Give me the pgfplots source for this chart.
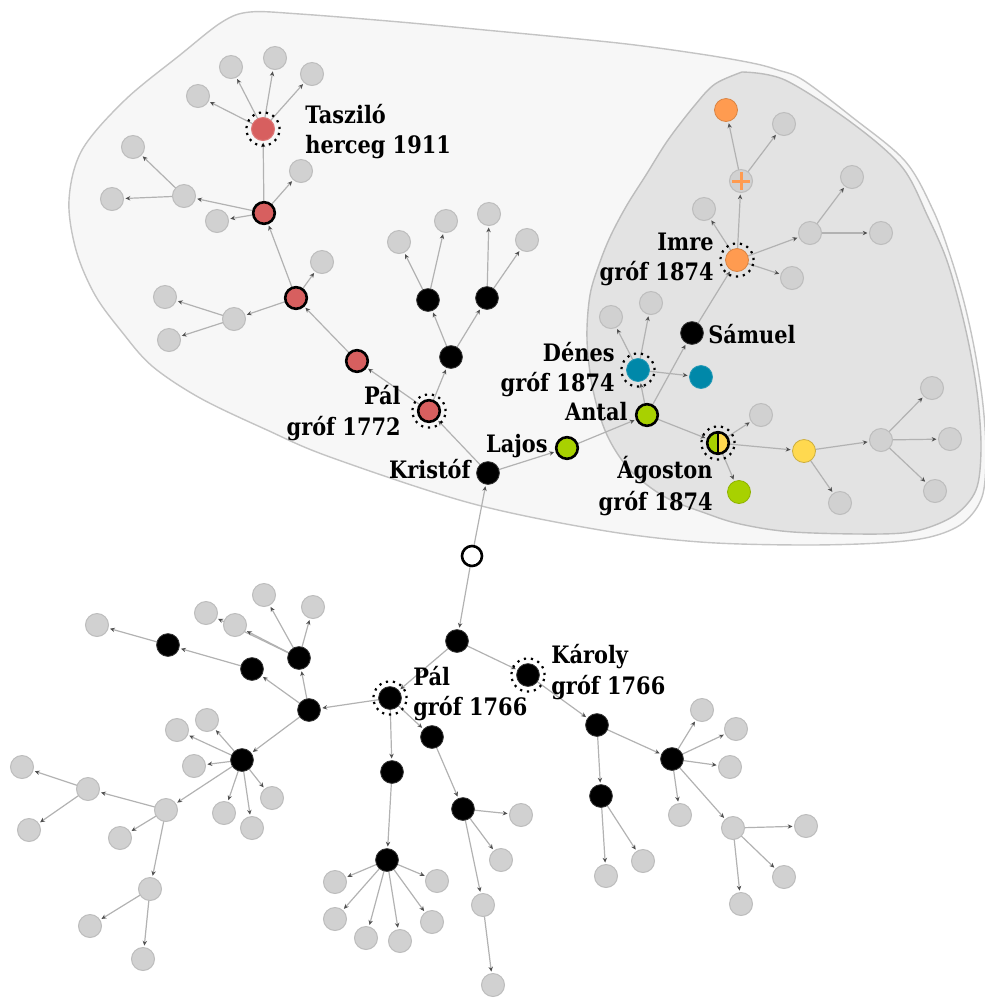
\documentclass[border=0pt]{standalone}
\usepackage{fontspec}
\setmainfont{DejaVu Serif}[FakeStretch=0.87]
\usepackage{pgfplots}
\usepackage{pgfplotstable}
\pgfplotsset{compat=1.18}
\usetikzlibrary{arrows.meta}

\definecolor{outerfill}{HTML}{F7F7F7}
\definecolor{outerline}{HTML}{C4C4C4}
\definecolor{innerfill}{HTML}{E3E3E3}
\definecolor{innerline}{HTML}{BCBCBC}
\definecolor{nodegray}{HTML}{D1D1D1}
\definecolor{nodegrayline}{HTML}{BDBDBD}
\definecolor{edgegray}{HTML}{B2B2B2}
\definecolor{arrowgray}{HTML}{505050}
\definecolor{nred}{HTML}{D75F5F}
\definecolor{ngreen}{HTML}{A8D100}
\definecolor{nteal}{HTML}{0088A9}
\definecolor{norange}{HTML}{FF9B50}
\definecolor{nyellow}{HTML}{FFD94F}

\tikzset{lbl/.style={font=\fontsize{12}{14}\selectfont\bfseries, inner sep=0pt}}

\pgfdeclareplotmark{lefthalf}{%
  \pgfpathmoveto{\pgfqpoint{0pt}{\pgfplotmarksize}}%
  \pgfpatharc{90}{270}{\pgfplotmarksize}%
  \pgfpathclose
  \pgfusepathqfill}

% edges: parent (x,y) -> child (tx,ty), pixel coordinates
\pgfplotstableread{
x y tx ty
472 556 488 473
472 556 457 641
457 641 390 698
457 641 528 675
528 675 597 725
597 725 601 796
597 725 672 759
601 796 606 876
601 796 643 861
672 759 702 710
672 759 736 729
672 759 730 767
672 759 680 815
672 759 733 828
733 828 806 826
733 828 784 877
733 828 741 904
390 698 392 772
390 698 432 737
390 698 309 710
432 737 463 809
463 809 521 815
463 809 501 860
463 809 483 905
483 905 493 985
392 772 387 860
387 860 335 882
387 860 335 919
387 860 366 938
387 860 400 941
387 860 432 922
387 860 437 881
309 710 252 669
309 710 299 658
309 710 242 760
252 669 168 645
168 645 97 625
299 658 206 613
299 658 235 625
299 658 264 595
299 658 313 607
242 760 177 730
242 760 207 720
242 760 194 766
242 760 224 813
242 760 252 828
242 760 272 798
242 760 166 810
166 810 88 789
166 810 120 838
166 810 150 889
88 789 22 767
88 789 29 830
150 889 90 926
150 889 143 959
488 473 429 411
488 473 567 448
429 411 357 361
429 411 451 357
357 361 296 298
296 298 264 213
296 298 322 262
296 298 234 319
234 319 165 297
234 319 169 340
264 213 263 129
264 213 184 196
264 213 217 221
264 213 301 171
184 196 133 147
184 196 112 199
263 129 198 96
263 129 231 67
263 129 275 58
263 129 312 74
451 357 428 300
451 357 487 298
428 300 399 242
428 300 446 221
487 298 489 214
487 298 527 240
567 448 647 415
647 415 638 370
647 415 692 333
647 415 718 443
638 370 701 377
638 370 611 317
638 370 651 303
692 333 737 260
737 260 741 181
737 260 704 209
737 260 810 233
737 260 792 278
741 181 726 110
741 181 784 124
810 233 852 177
810 233 881 233
718 443 761 415
718 443 739 492
718 443 804 451
804 451 881 440
804 451 840 503
881 440 932 388
881 440 950 439
881 440 935 491
}\edges

\pgfplotstableread{
x y
606 876
643 861
702 710
736 729
730 767
680 815
733 828
806 826
784 877
741 904
521 815
501 860
483 905
493 985
335 882
335 919
366 938
400 941
432 922
437 881
97 625
206 613
235 625
264 595
313 607
177 730
207 720
194 766
224 813
252 828
272 798
166 810
88 789
120 838
150 889
22 767
29 830
90 926
143 959
322 262
234 319
165 297
169 340
184 196
217 221
301 171
133 147
112 199
198 96
231 67
275 58
312 74
399 242
446 221
489 214
527 240
611 317
651 303
704 209
810 233
792 278
784 124
852 177
881 233
761 415
881 440
840 503
932 388
950 439
935 491
741 181
}\graynodes

\pgfplotstableread{
x y
457 641
390 698
528 675
597 725
601 796
672 759
392 772
432 737
309 710
463 809
387 860
252 669
299 658
242 760
168 645
488 473
451 357
428 300
487 298
692 333
}\blacknodes

\pgfplotstableread{
x y
429 411
357 361
296 298
264 213
}\rednodes

\pgfplotstableread{
x y
263 129
429 411
737 260
638 370
718 443
390 698
528 675
}\rings

\begin{document}
\begin{tikzpicture}
\useasboundingbox (0,0) rectangle (492.5pt,499pt);
\begin{axis}[
  at={(0,0)}, anchor=south west,
  width=492.5pt, height=499pt, scale only axis,
  xmin=0, xmax=985, ymin=0, ymax=998, y dir=reverse,
  hide axis, clip=true,
]
% hulls
\addplot[fill=outerfill, draw=outerline, line width=0.7pt, smooth, tension=0.55] coordinates {
(485,30) (618,43) (700,54) (752,63) (778,70) (803,80) (852,117) (905,161)
(933,210) (950,255) (964,302) (975,352) (983,405) (986,455) (982,497) (963,523)
(930,537) (880,543) (800,545) (700,542) (600,530) (470,503) (330,457) (267,430)
(200,398) (152,366) (122,332) (95,295) (76,250) (69,200) (82,150) (125,100)
(180,55) (222,22) (250,12) (300,14) (400,22) (485,30)} -- cycle;
\addplot[fill=innerfill, draw=innerline, line width=0.7pt, smooth, tension=0.55] coordinates {
(742,72) (785,80) (852,123) (902,167) (928,217) (946,258) (959,302) (970,350)
(978,400) (981,450) (976,490) (955,515) (920,530) (880,534) (793,532) (740,524)
(705,513) (665,497) (630,470) (607,435) (593,390) (587,340) (590,295) (600,262)
(611,235) (627,205) (646,175) (668,140) (695,105) (715,84) (742,72)} -- cycle;

% edges
\addplot[draw=edgegray, line width=0.6pt,
  -{Stealth[length=2.4pt,width=2.2pt,color=arrowgray]},
  quiver={
    u={(\thisrow{tx}-\thisrow{x})*(1-13.5/veclen(\thisrow{tx}-\thisrow{x},\thisrow{ty}-\thisrow{y}))},
    v={(\thisrow{ty}-\thisrow{y})*(1-13.5/veclen(\thisrow{tx}-\thisrow{x},\thisrow{ty}-\thisrow{y}))}
  }] table[x=x,y=y] {\edges};

% nodes
\addplot[only marks, mark=*, mark size=5.75pt,
  mark options={fill=nodegray, draw=nodegrayline, line width=0.5pt}] table {\graynodes};
\addplot[only marks, mark=*, mark size=5.7pt,
  mark options={fill=black, draw=black!80, line width=0.4pt}] table {\blacknodes};
\addplot[only marks, mark=*, mark size=5.4pt,
  mark options={fill=nred, draw=black, line width=1.3pt}] table {\rednodes};
% Taszilo
\addplot[only marks, mark=*, mark size=5.75pt,
  mark options={fill=nred, draw=nred!85!white, line width=0.5pt}] coordinates {(263,129)};
% green with border
\addplot[only marks, mark=*, mark size=5.4pt,
  mark options={fill=ngreen, draw=black, line width=1.3pt}] coordinates {(567,448) (647,415)};
\addplot[only marks, mark=*, mark size=5.75pt,
  mark options={fill=ngreen, draw=ngreen!85!black, line width=0.4pt}] coordinates {(739,492)};
\addplot[only marks, mark=*, mark size=5.75pt,
  mark options={fill=nteal, draw=nteal!85!white, line width=0.4pt}] coordinates {(638,370) (701,377)};
\addplot[only marks, mark=*, mark size=5.75pt,
  mark options={fill=norange, draw=norange!85!black, line width=0.4pt}] coordinates {(737,260) (726,110)};
\addplot[only marks, mark=*, mark size=5.75pt,
  mark options={fill=nyellow, draw=nyellow!80!black, line width=0.4pt}] coordinates {(804,451)};
% white root
\addplot[only marks, mark=*, mark size=5.0pt,
  mark options={fill=white, draw=black, line width=1.3pt}] coordinates {(472,556)};
% split node (Agoston)
\addplot[only marks, mark=*, mark size=5.4pt,
  mark options={fill=nyellow, draw=nyellow}] coordinates {(718,443)};
\addplot[only marks, mark=lefthalf, mark size=5.4pt,
  mark options={fill=ngreen}] coordinates {(718,443)};
\addplot[only marks, mark=|, mark size=5.4pt,
  mark options={draw=black, line width=1.1pt}] coordinates {(718,443)};
\addplot[only marks, mark=o, mark size=5.4pt,
  mark options={draw=black, line width=1.3pt}] coordinates {(718,443)};
% plus node
\addplot[only marks, mark=+, mark size=4.3pt,
  mark options={draw=norange, line width=1.5pt}] coordinates {(741,181)};
% dotted rings
\addplot[only marks, mark=o, mark size=8.3pt,
  mark options={draw=black, line width=1.1pt, dash pattern=on 1.1pt off 2.4pt}] table {\rings};

% labels
\node[lbl, anchor=base west] at (axis cs:305,123) {Tasziló};
\node[lbl, anchor=base west] at (axis cs:305,153) {herceg 1911};
\node[lbl, anchor=base east] at (axis cs:401,404) {Pál};
\node[lbl, anchor=base east] at (axis cs:401,435) {gróf 1772};
\node[lbl, anchor=base east] at (axis cs:471,478) {Kristóf};
\node[lbl, anchor=base east] at (axis cs:548,452) {Lajos};
\node[lbl, anchor=base east] at (axis cs:615,361) {Dénes};
\node[lbl, anchor=base east] at (axis cs:615,391) {gróf 1874};
\node[lbl, anchor=base east] at (axis cs:628,420) {Antal};
\node[lbl, anchor=base west] at (axis cs:708,343) {Sámuel};
\node[lbl, anchor=base east] at (axis cs:714,250) {Imre};
\node[lbl, anchor=base east] at (axis cs:714,280) {gróf 1874};
\node[lbl, anchor=base east] at (axis cs:713,478) {Ágoston};
\node[lbl, anchor=base east] at (axis cs:713,510) {gróf 1874};
\node[lbl, anchor=base west] at (axis cs:413,685) {Pál};
\node[lbl, anchor=base west] at (axis cs:413,715) {gróf 1766};
\node[lbl, anchor=base west] at (axis cs:551,663) {Károly};
\node[lbl, anchor=base west] at (axis cs:551,694) {gróf 1766};
\end{axis}
\end{tikzpicture}
\end{document}
